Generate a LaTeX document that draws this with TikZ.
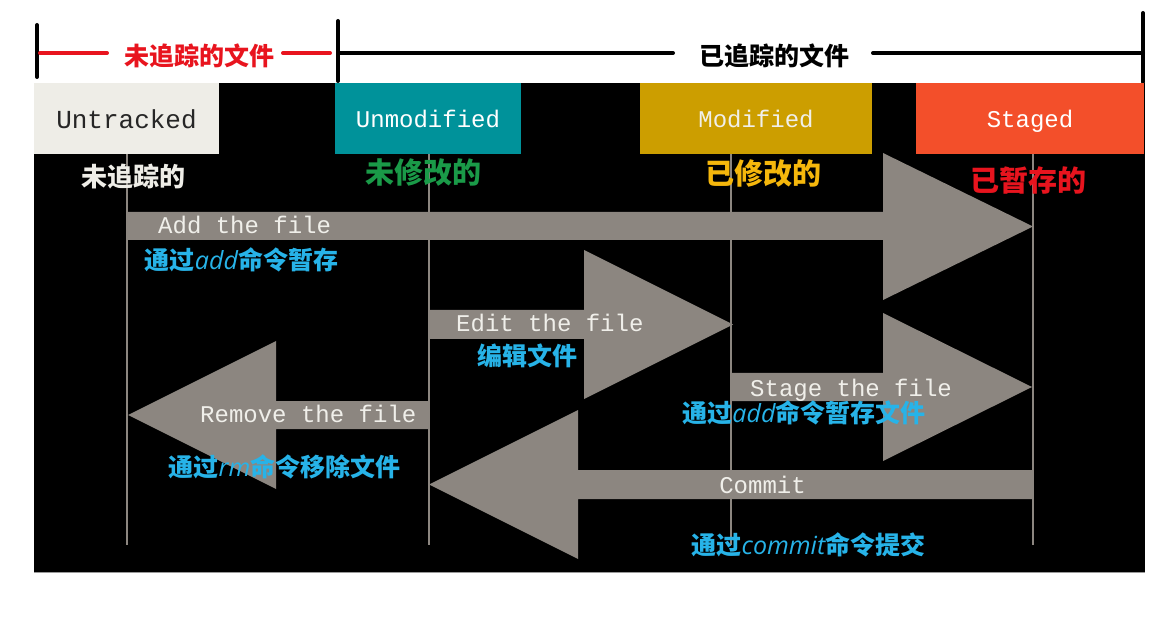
\documentclass[tikz,border=0pt]{standalone}
\usepackage{fontspec}
\newfontfamily\cjk{Noto Sans CJK SC}
\newfontfamily\monof{Liberation Mono}
\newfontfamily\handf{Open Sans}
\newcommand\latw[1]{{\handf\mdseries\itshape #1}}
\definecolor{arrowgray}{HTML}{8C8680}
\definecolor{untrk}{HTML}{EEEDE7}
\definecolor{tealc}{HTML}{00929A}
\definecolor{goldc}{HTML}{CC9E00}
\definecolor{stagec}{HTML}{F34F2A}
\definecolor{greenl}{HTML}{1A9A48}
\definecolor{yellowl}{HTML}{F5B70C}
\definecolor{redl}{HTML}{E8141E}
\definecolor{bluel}{HTML}{27B3E8}
\definecolor{lighttxt}{HTML}{F0EFEA}
\begin{document}
\begin{tikzpicture}[x=1pt,y=-1pt,
  boxtext/.style={anchor=base,inner sep=0pt,font=\monof\fontsize{24}{24}\selectfont},
  arrtext/.style={anchor=base west,inner sep=0pt,text=lighttxt,font=\monof\fontsize{24}{24}\selectfont},
  statelbl/.style={inner sep=0pt,font=\cjk\bfseries\fontsize{29}{29}\selectfont},
  cmdlbl/.style={inner sep=0pt,text=bluel,font=\cjk\bfseries\fontsize{25}{25}\selectfont},
  toplbl/.style={inner sep=0pt,font=\cjk\bfseries\fontsize{25}{25}\selectfont},
  brk/.style={line width=4pt,line cap=round},
  vline/.style={draw=arrowgray,line width=2pt},
  arr/.style={fill=arrowgray}]
\useasboundingbox (0,0) rectangle (1175,617);
\fill[white] (0,0) rectangle (1175,617);
\fill[black] (34,83) rectangle (1145,572);
\draw[line width=1pt,draw=black!40] (34,572) -- (1145,572);
% top brackets
\draw[brk,black] (37,25) -- (37,77);
\draw[brk,black] (338,21) -- (338,81);
\draw[brk,black] (1143,13) -- (1143,82);
\draw[brk,redl] (40,53) -- (107,53);
\draw[brk,redl] (283,53) -- (330,53);
\draw[brk,black] (338,53) -- (673,53);
\draw[brk,black] (873,53) -- (1143,53);
\node[toplbl,text=redl] (untrackedfiles) at (199.5,56) {未追踪的文件};
\node[toplbl,text=black] (trackedfiles) at (774.5,56) {已追踪的文件};
% state boxes
\fill[untrk] (34,83) rectangle (219,154);
\fill[tealc] (335,83) rectangle (521,154);
\fill[goldc] (640,83) rectangle (872,154);
\fill[stagec] (916,83) rectangle (1144,154);
\node[boxtext,text=black!85,font=\monof\fontsize{26}{26}\selectfont] (untracked) at (126.5,129) {Untracked};
\node[boxtext,text=white] (unmodified) at (428,128) {Unmodified};
\node[boxtext,text=lighttxt] (modified) at (756,128) {Modified};
\node[boxtext,text=white] (staged) at (1030,128) {Staged};
% lifelines
\draw[vline] (127,154) -- (127,545);
\draw[vline] (429,154) -- (429,545);
\draw[vline] (731,154) -- (731,545);
\draw[vline] (1033,154) -- (1033,545);
% state labels
\node[statelbl,text=untrk,font=\cjk\bfseries\fontsize{26}{26}\selectfont] (l1) at (133.5,177) {未追踪的};
\node[statelbl,text=greenl] (l2) at (423,173) {未修改的};
\node[statelbl,text=yellowl] (l3) at (763,174) {已修改的};
\node[statelbl,text=redl] (l4) at (1028.5,180) {已暂存的};
% arrows
\fill[arr] (127,212) -- (883,212) -- (883,153) -- (1033,226.5) -- (883,300) -- (883,240) -- (127,240) -- cycle;
\fill[arr] (429,310) -- (584,310) -- (584,250) -- (733,324.5) -- (584,399) -- (584,339) -- (429,339) -- cycle;
\fill[arr] (731,373) -- (883,373) -- (883,313) -- (1032,387) -- (883,461) -- (883,401) -- (731,401) -- cycle;
\fill[arr] (429,401) -- (276,401) -- (276,341) -- (128,415) -- (276,489) -- (276,429) -- (429,429) -- cycle;
\fill[arr] (1033,470) -- (578,470) -- (578,410) -- (429,484.5) -- (578,559) -- (578,499) -- (1033,499) -- cycle;
% arrow texts
\node[arrtext] (add) at (158,234) {Add the file};
\node[arrtext] (edit) at (456,332) {Edit the file};
\node[arrtext] (stage) at (750,396) {Stage the file};
\node[arrtext] (remove) at (200,422) {Remove the file};
\node[arrtext,anchor=base] (commit) at (762.5,493) {Commit};
% command labels
\node[cmdlbl] (c1) at (241.5,260) {通过\latw{add}命令暂存};
\node[cmdlbl] (c2) at (527.5,356) {编辑文件};
\node[cmdlbl] (c3) at (804,413) {通过\latw{add}命令暂存文件};
\node[cmdlbl] (c4) at (284.5,466.5) {通过\latw{rm}命令移除文件};
\node[cmdlbl] (c5) at (808.5,544.5) {通过\latw{commit}命令提交};
\end{tikzpicture}
\end{document}
